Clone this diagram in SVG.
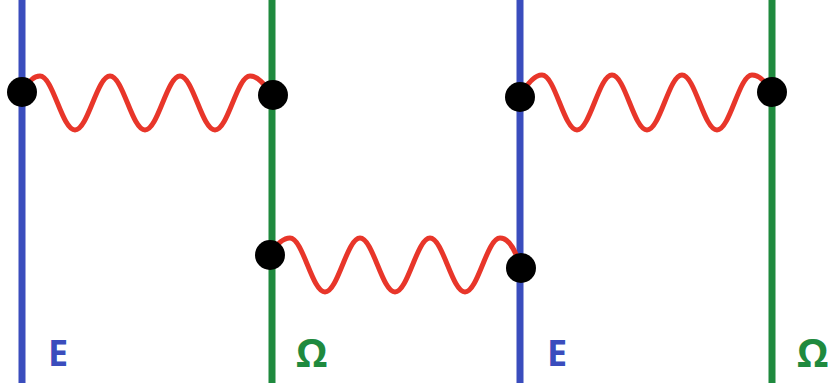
<svg xmlns="http://www.w3.org/2000/svg" width="836" height="390" viewBox="0 0 836 390">
<style>
.blue{stroke:#3a4dbd;stroke-width:7;fill:none}
.green{stroke:#1f8a3e;stroke-width:7;fill:none}
.wave{stroke:#e8362a;stroke-width:5;fill:none;stroke-linecap:round}
.dot{fill:#000}
.lbl{font-family:"Open Sans","DejaVu Sans",sans-serif;font-weight:bold;font-size:36px}
.om{font-size:40px}
</style>
<rect width="836" height="390" fill="#fff"/>
<g id="line-E1"><line class="blue" x1="22" y1="0" x2="22" y2="383"/><text class="lbl" x="48" y="366" fill="#3a4dbd">E</text></g>
<g id="line-O1"><line class="green" x1="272" y1="0" x2="272" y2="383"/><text class="lbl om" x="296" y="367" fill="#1f8a3e">Ω</text></g>
<g id="line-E2"><line class="blue" x1="520" y1="0" x2="520" y2="383"/><text class="lbl" x="547" y="366" fill="#3a4dbd">E</text></g>
<g id="line-O2"><line class="green" x1="772" y1="0" x2="772" y2="383"/><text class="lbl om" x="797" y="367" fill="#1f8a3e">Ω</text></g>
<g id="connectors">
<path class="wave" d="M22,92 C30,80 34,76 40,76 C53,76 62,130 75,130 C88,130 97,76 110,76 C123,76 132,130 145,130 C158,130 167,76 180,76 C193,76 202,130 215,130 C228,130 237,76 250,76 C258,76 264,84 272,95"/>
<path class="wave" d="M270,254 C278,242 284,238 290,238 C303,238 312,292 325,292 C338,292 347,238 360,238 C373,238 382,292 395,292 C408,292 417,238 430,238 C443,238 452,292 465,292 C478,292 487,238 500,238 C510,238 516,252 521,268"/>
<path class="wave" d="M520,97 C528,82 535,75 542,75 C555,75 564,130 577,130 C590,130 599,75 612,75 C625,75 634,130 647,130 C660,130 669,75 682,75 C695,75 704,130 717,130 C730,130 739,75 752,75 C760,75 766,82 772,92"/>
</g>
<g id="vertices">
<circle class="dot" cx="22" cy="92" r="15"/>
<circle class="dot" cx="273" cy="95" r="15"/>
<circle class="dot" cx="270" cy="255" r="15"/>
<circle class="dot" cx="521" cy="268" r="15"/>
<circle class="dot" cx="520" cy="97" r="15"/>
<circle class="dot" cx="772" cy="92" r="15"/>
</g>
</svg>
